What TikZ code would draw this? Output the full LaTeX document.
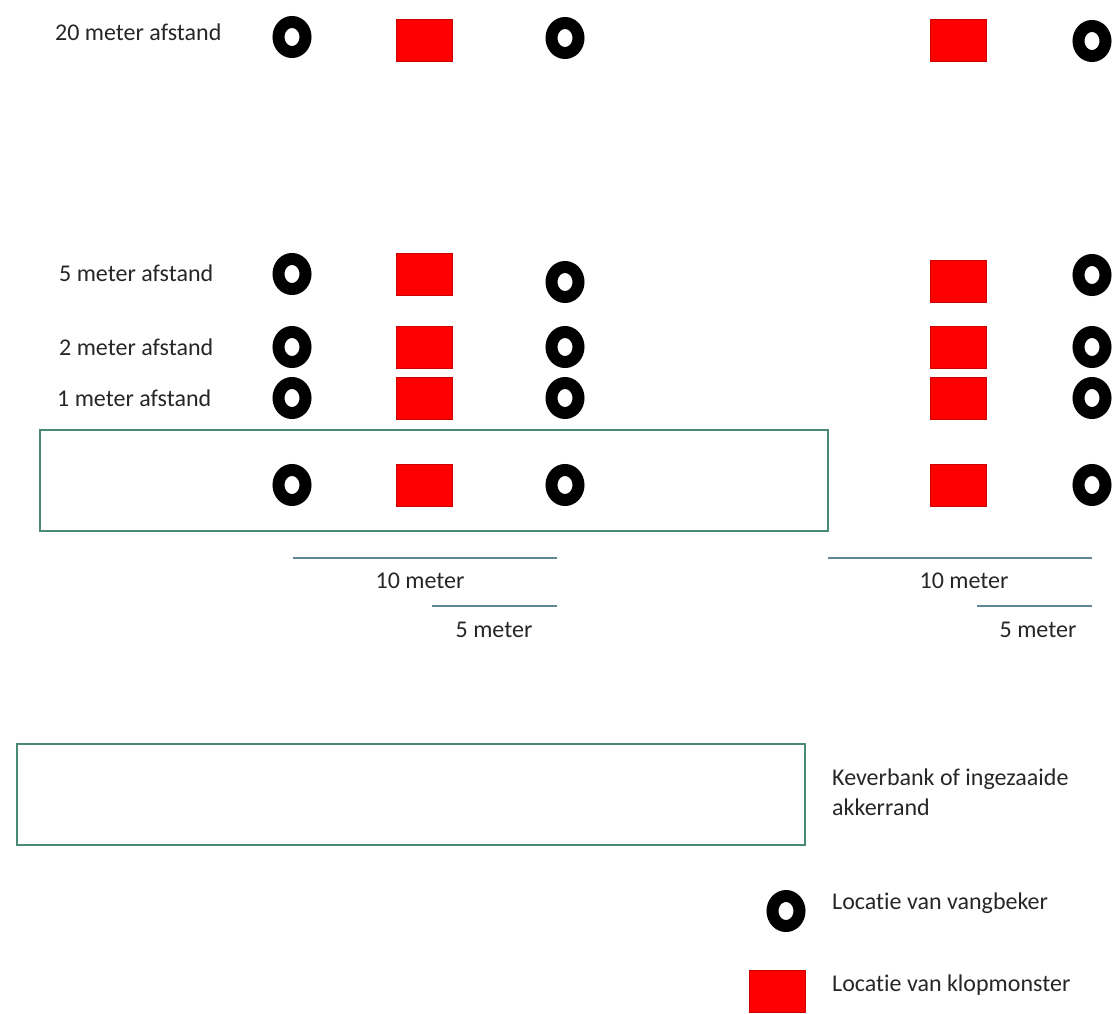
\documentclass[tikz,border=0pt]{standalone}
\usepackage{fontspec}
\setmainfont{Carlito}[Ligatures={NoCommon}]
\usepackage{tikz}
\usetikzlibrary{shapes.geometric}
\definecolor{bankgreen}{RGB}{74,138,112}
\definecolor{maatblue}{RGB}{95,135,150}
\definecolor{klopred}{RGB}{255,0,0}
\tikzset{%
    vang/.style={ellipse, draw=black, line width=12pt, minimum width=27pt,
        minimum height=30pt, inner sep=0pt},
    klop/.style={rectangle, fill=klopred, draw=red!80!black, line width=0.6pt,
        minimum width=56pt, minimum height=42pt, inner sep=0pt},
    bank/.style={draw=bankgreen, line width=2pt},
    maat/.style={draw=maatblue, line width=1.6pt},
    lbl/.style={inner sep=0pt, font=\fontsize{24}{30}\selectfont, text=black!85}
}

\begin{document}
\begin{tikzpicture}[x=1pt,y=-1pt]
  \useasboundingbox (0,0) rectangle (1113,1014);
  % rijen met vangbekers en klopmonsters
  \foreach \n/\ya/\yb/\yc/\yd/\ye in {t/37/40/38/40/41, v/274/274/282/281/275,
      w/347/347/347/347/347, e/398/398/398/398/398, r/485/485/485/485/485} {
    \node[vang] (\n1) at (292,\ya) {};
    \node[klop] (\n2) at (424,\yb) {};
    \node[vang] (\n3) at (565,\yc) {};
    \node[klop] (\n4) at (958,\yd) {};
    \node[vang] (\n5) at (1092,\ye) {};
  }
  \node[lbl,anchor=west] (d20) at (55,32) {20 meter afstand};
  \node[lbl,anchor=west] (d5) at (59,273) {5 meter afstand};
  \node[lbl,anchor=west] (d2) at (59,347) {2 meter afstand};
  \node[lbl,anchor=west] (d1) at (57,398) {1 meter afstand};
  \draw[bank] (40,430) rectangle (828,531);
  % maatstreepjes
  \draw[maat] (293,558) coordinate (ma) -- (557,558) coordinate (mb);
  \node[lbl] (ta) at (420,581) {10 meter};
  \draw[maat] (432,606) coordinate (mc) -- (557,606) coordinate (md);
  \node[lbl] (tb) at (494,630) {5 meter};
  \draw[maat] (828,558) coordinate (me) -- (1092,558) coordinate (mf);
  \node[lbl] (tc) at (964,581) {10 meter};
  \draw[maat] (977,606) coordinate (mg) -- (1092,606) coordinate (mh);
  \node[lbl] (td) at (1038,630) {5 meter};
  % legenda
  \draw[bank] (17,744) rectangle (805,845);
  \node[lbl,anchor=west,align=left] (lbank) at (832,792) {Keverbank of ingezaaide\\akkerrand};
  \node[vang] (lvang) at (786,911) {};
  \node[lbl,anchor=west] (lvtxt) at (832,903) {Locatie van vangbeker};
  \node[klop] (lklop) at (777,991) {};
  \node[lbl,anchor=west] (lktxt) at (832,985) {Locatie van klopmonster};
\end{tikzpicture}
\end{document}
